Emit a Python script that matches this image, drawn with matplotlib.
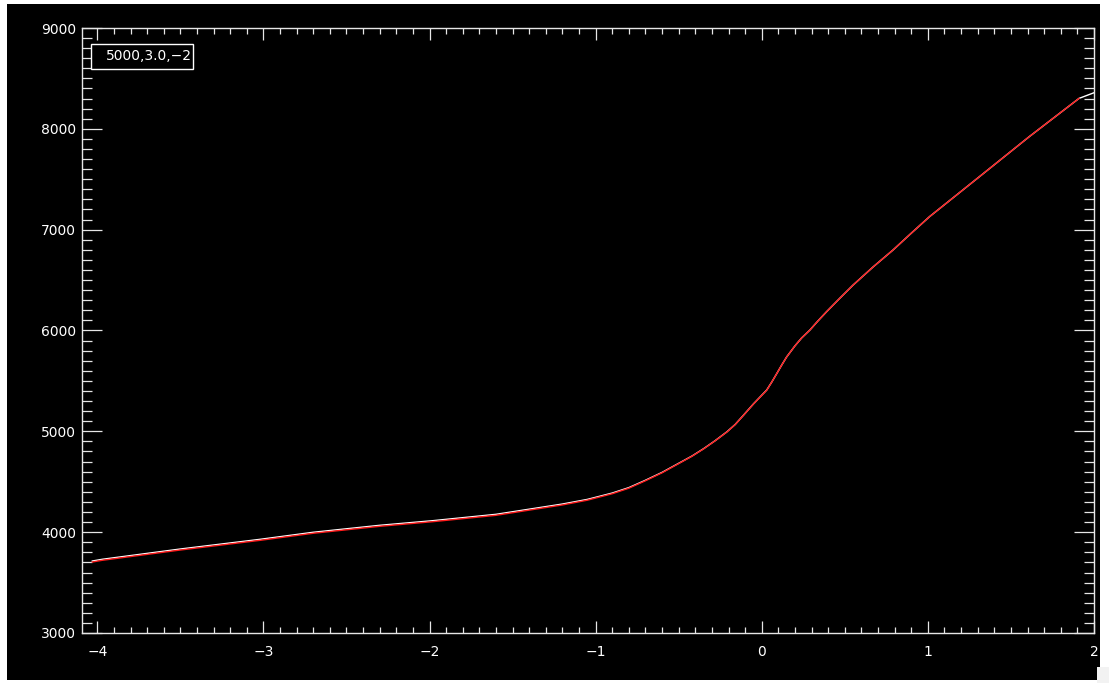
import matplotlib
matplotlib.use("Agg")
import matplotlib.pyplot as plt
from matplotlib.patches import Rectangle
from matplotlib.ticker import MultipleLocator

# Data
x_white = [-4.03, -3.97, -3.5, -3.02, -2.7, -2.3, -1.98, -1.6, -1.2, -1.05, -0.9,
           -0.8, -0.7, -0.6, -0.5, -0.42, -0.35, -0.28, -0.21, -0.16, -0.11,
           -0.05, 0.03, 0.06, 0.09, 0.12, 0.15, 0.2, 0.24, 0.29, 0.34, 0.39,
           0.47, 0.55, 0.67, 0.79, 0.9, 1.01, 1.31, 1.61, 1.91, 2.0]
y_white = [3714, 3731, 3833, 3929, 3999, 4068, 4114, 4177, 4279, 4325, 4388,
           4442, 4515, 4593, 4683, 4755, 4828, 4908, 4995, 5068, 5160,
           5272, 5410, 5488, 5572, 5657, 5738, 5848, 5926, 6005, 6098, 6186,
           6320, 6451, 6630, 6798, 6965, 7129, 7525, 7922, 8302, 8358]
x_red = [-4.03, -3.97, -3.5, -3.02, -2.7, -2.3, -1.98, -1.6, -1.2, -1.05, -0.9,
         -0.8, -0.7, -0.6, -0.5, -0.42, -0.35, -0.28, -0.21, -0.16, -0.11,
         -0.05, 0.03, 0.06, 0.09, 0.12, 0.15, 0.2, 0.24, 0.29, 0.34, 0.39,
         0.47, 0.55, 0.67, 0.79, 0.9, 1.01, 1.31, 1.61, 1.91]
y_red = [3704, 3721, 3823, 3919, 3989, 4058, 4104, 4167, 4270, 4317, 4381,
         4436, 4510, 4589, 4680, 4753, 4826, 4907, 4993, 5067, 5159,
         5271, 5408, 5488, 5572, 5657, 5738, 5848, 5926, 6005, 6098, 6186,
         6320, 6451, 6630, 6798, 6965, 7129, 7525, 7922, 8302]
legend_label = "5000,3.0,\u22122"
x_limits = (-4.092, 2.0)
y_limits = (3000, 9000)

W, H = 1109, 683
fig = plt.figure(figsize=(W / 100, H / 100), dpi=100, facecolor="white")

# black canvas
fig.patches.append(Rectangle((7 / W, (H - 680) / H), (1100 - 7) / W, (680 - 4) / H,
                             transform=fig.transFigure, facecolor="black",
                             edgecolor="none", zorder=-10))
# small white square at bottom right
fig.patches.append(Rectangle((1097 / W, 0), 12 / W, (683 - 667) / H,
                             transform=fig.transFigure, facecolor="#f2f2f2",
                             edgecolor="none", zorder=-5))

ax = fig.add_axes([82 / W, (H - 633) / H, (1094 - 82) / W, (633 - 28) / H])
ax.set_facecolor("black")

ax.plot(x_white, y_white, color="white", lw=1.0, zorder=3)
ax.plot(x_red, y_red, color="#ff1a1a", lw=1.0, zorder=4)

ax.set_xlim(*x_limits)
ax.set_ylim(*y_limits)

ax.xaxis.set_major_locator(MultipleLocator(1))
ax.xaxis.set_minor_locator(MultipleLocator(0.1))
ax.yaxis.set_major_locator(MultipleLocator(1000))
ax.yaxis.set_minor_locator(MultipleLocator(100))

for s in ax.spines.values():
    s.set_color("#e6e6e6")
    s.set_linewidth(1.0)

ax.tick_params(axis="x", which="both", direction="in", top=True, bottom=True,
               colors="#e6e6e6", labelcolor="white", labelsize=10, pad=8.5)
ax.tick_params(axis="x", which="major", length=8.6, width=0.9)
ax.tick_params(axis="x", which="minor", length=4.3, width=0.9)
ax.tick_params(axis="y", which="both", direction="in", left=True, right=True,
               colors="#e6e6e6", labelcolor="white", labelsize=10, pad=4.3)
ax.tick_params(axis="y", which="major", length=14.4, width=0.9)
ax.tick_params(axis="y", which="minor", length=7.2, width=0.9)

# legend box
fig.patches.append(Rectangle((91 / W, (H - 69) / H), 102 / W, 25 / H,
                             transform=fig.transFigure, facecolor="black",
                             edgecolor="white", linewidth=1.0, zorder=5))
fig.text(106 / W, (H - 56.5) / H, legend_label, color="white", fontsize=10,
         va="center", ha="left", zorder=6)

fig.savefig("out.png", dpi=100, facecolor=fig.get_facecolor())
